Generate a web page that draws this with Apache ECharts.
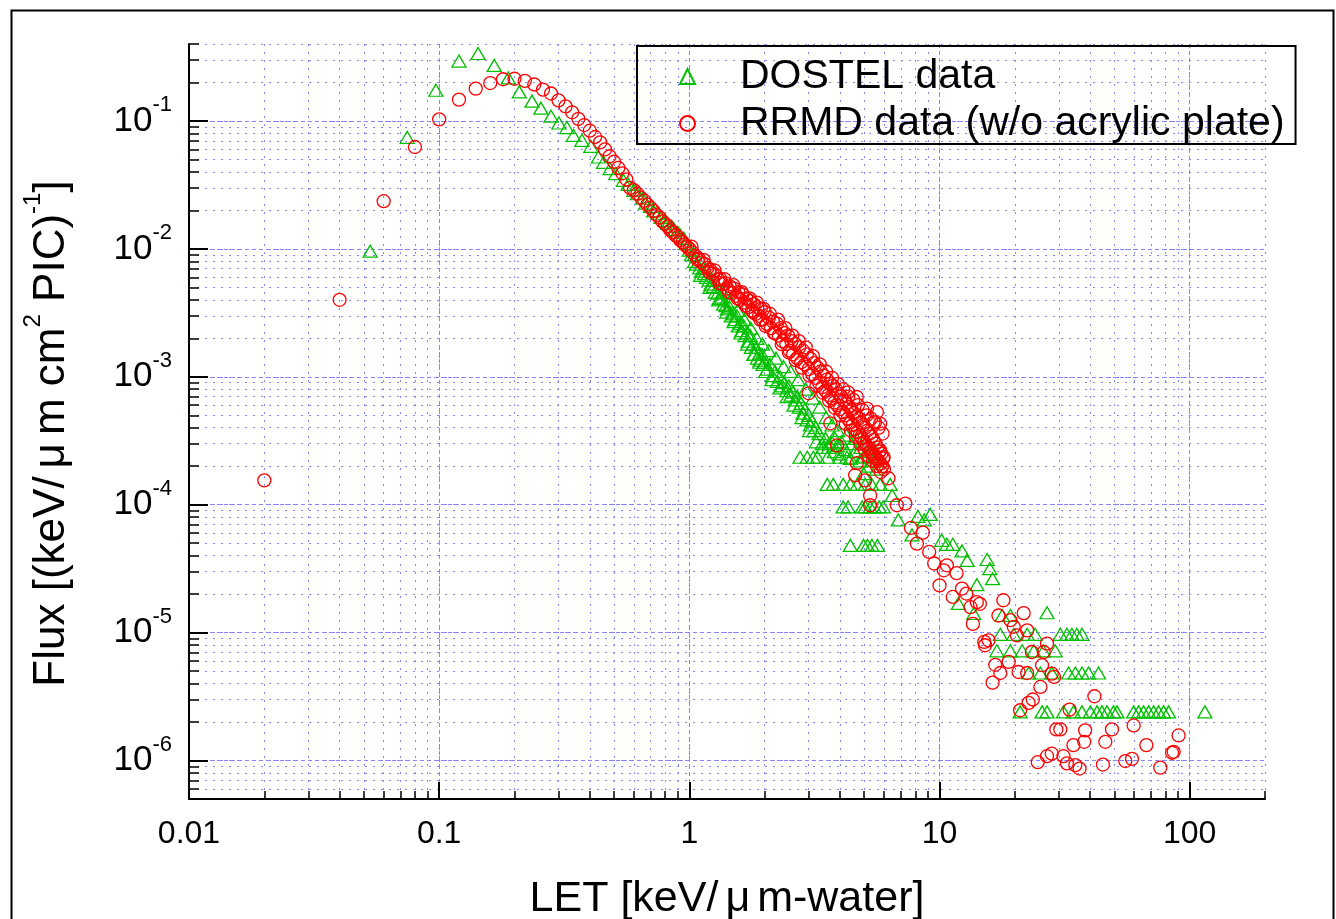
<!DOCTYPE html>
<html><head><meta charset="utf-8">
<script src="https://cdn.jsdelivr.net/npm/echarts@6/dist/echarts.min.js"></script>
<style>html,body{margin:0;padding:0;background:#fff}#c{width:1336px;height:919px}</style>
</head><body><div id="c"></div>
<script>
// ---- tick labels ----
const xTickValues = [0.01, 0.1, 1, 10, 100];
const xTickLabels = ['0.01', '0.1', '1', '10', '100'];
const yTickValues = [1e-6, 1e-5, 1e-4, 1e-3, 1e-2, 1e-1];
const yTickExponents = ['-6', '-5', '-4', '-3', '-2', '-1'];

// ---- DOSTEL data (LET, flux) ----
const dostelLow = [[0.053,0.0096],[0.0745,0.0746],[0.097,0.174],[0.120,0.294],[0.143,0.337],[0.166,0.272],[0.189,0.217],[0.209,0.169],[0.235,0.143],[0.255,0.126],[0.280,0.109],[0.301,0.0965],[0.324,0.0888],[0.344,0.0773],[0.372,0.0706],[0.404,0.0634],[0.433,0.0523],[0.454,0.0475],[0.482,0.0425],[0.508,0.0388],[0.545,0.0344]];
const dostelBand = [[0.57,0.032],[0.60,0.0287],[0.62,0.027],[0.65,0.0249],[0.67,0.0228],[0.70,0.0215],[0.72,0.0198],[0.75,0.019],[0.77,0.0176],[0.80,0.0167],[0.82,0.0158],[0.85,0.015],[0.87,0.0142],[0.90,0.0135],[0.92,0.0128],[0.95,0.0121],[0.97,0.0110],[1.00,0.0098],[1.02,0.0090],[1.05,0.0080],[1.07,0.0076],[1.10,0.0071],[1.12,0.0067],[1.15,0.0064],[1.17,0.0060],[1.20,0.0057],[1.22,0.0053],[1.25,0.0051],[1.27,0.0046],[1.30,0.0045],[1.32,0.0041],[1.35,0.0042],[1.37,0.0037],[1.40,0.0036],[1.42,0.0034],[1.45,0.0035],[1.47,0.0030],[1.50,0.0031],[1.52,0.0028],[1.55,0.0030],[1.57,0.0025],[1.60,0.0026],[1.62,0.0023],[1.65,0.0025],[1.67,0.0021],[1.70,0.0022],[1.72,0.0019],[1.75,0.0021],[1.77,0.0017],[1.80,0.0018],[1.82,0.0015],[1.85,0.0017],[1.87,0.0014],[1.90,0.0015],[1.92,0.00135],[1.95,0.0015],[1.97,0.00125],[2.00,0.0013],[2.05,0.00115],[2.10,0.00125],[2.15,0.00102],[2.20,0.00110],[2.25,0.00092],[2.30,0.00100],[2.35,0.00085],[2.40,0.00090],[2.45,0.00078],[2.50,0.00085],[2.55,0.00072],[2.60,0.00076],[2.65,0.00066],[2.70,0.00070],[2.75,0.00058],[2.80,0.00062],[2.85,0.00052],[2.90,0.00056],[2.95,0.00046],[3.00,0.00050],[3.05,0.00042],[3.10,0.00045],[3.15,0.00038],[3.20,0.00040],[3.30,0.00036],[3.40,0.00030],[3.50,0.00033],[3.60,0.00028],[3.70,0.00031],[3.80,0.00026],[3.90,0.00029],[4.00,0.00025],[4.20,0.00027],[4.40,0.00023],[4.60,0.00026],[4.80,0.00022],[5.00,0.00024],[5.20,0.00020],[5.40,0.00022],[5.60,0.00019]];
const dostelSpread = [[1.05,0.0090],[1.11,0.0062],[1.16,0.0070],[1.21,0.0050],[1.26,0.0057],[1.31,0.0040],[1.36,0.0046],[1.41,0.0032],[1.46,0.0039],[1.51,0.0027],[1.56,0.0033],[1.61,0.0022],[1.66,0.0028],[1.71,0.0018],[1.76,0.0024],[1.81,0.0015],[1.86,0.0020],[1.91,0.0013],[1.96,0.0018],[2.02,0.0011],[2.08,0.0016],[2.14,0.00095],[2.22,0.0014],[2.30,0.00082],[2.38,0.0012],[2.46,0.00070],[2.54,0.0011],[2.62,0.00060],[2.72,0.00095],[2.82,0.00048],[2.92,0.00080],[3.02,0.00038],[3.12,0.00068],[3.22,0.00031],[3.32,0.00058],[3.42,0.00028],[3.52,0.00048],[3.62,0.00030],[3.72,0.00042],[3.82,0.00033],[3.92,0.00038],[4.05,0.00031],[4.25,0.00035],[4.45,0.00030],[4.65,0.00033],[4.85,0.00028],[5.05,0.00030],[5.25,0.00026],[5.45,0.00028],[5.65,0.00024],[5.85,0.00022]];
const dostelMid = [[2.77,2.35e-4],[2.96,2.35e-4],[3.13,2.35e-4],[3.25,2.35e-4],[3.56,2.35e-4],[4.0,2.35e-4],[4.27,2.35e-4],[4.96,2.35e-4],[5.64,2.35e-4],
 [3.56,1.44e-4],[3.76,1.44e-4],[4.12,1.44e-4],[4.4,1.44e-4],[4.69,1.44e-4],[5.05,1.44e-4],[5.36,1.44e-4],[5.79,1.44e-4],[6.35,1.44e-4],
 [4.12,9.6e-5],[4.31,9.6e-5],[4.91,9.6e-5],[5.05,9.6e-5],[5.28,9.6e-5],[5.48,9.6e-5],[5.74,9.6e-5],[5.96,9.6e-5],
 [4.4,4.8e-5],[4.97,4.8e-5],[5.15,4.8e-5],[5.37,4.8e-5],[5.65,4.8e-5],
 [4.97,1.75e-4],[6.47,1.18e-4],[6.84,7.6e-5],[7.76,5.8e-5],[8.2,8.1e-5],[8.69,7.6e-5],[9.18,8.4e-5],[10.2,5.27e-5],[10.7,4.9e-5],[11.3,4.9e-5],[12.3,4.35e-5],[12.9,3.67e-5],[15.5,3.73e-5],[15.9,3.16e-5],[16.3,2.64e-5],[14.1,2.37e-5],[11.9,1.69e-5],[13.7,1.41e-5],[17.8,1.36e-5],[19.2,1.36e-5],[26.9,1.43e-5]];
const dostelHigh = [[17.5,9.7e-6],[19.8,9.7e-6],[22.4,9.7e-6],[24.1,9.7e-6],[30.4,9.7e-6],[32.3,9.7e-6],[33.8,9.7e-6],[35.4,9.7e-6],[37.1,9.7e-6],
 [16.96,7.2e-6],[19.2,7.2e-6],[21.4,7.2e-6],[23.8,7.2e-6],[26.0,7.2e-6],[29.0,7.2e-6],
 [22.7,4.83e-6],[25.3,4.83e-6],[28.1,4.83e-6],[32.8,4.83e-6],[34.9,4.83e-6],[37.1,4.83e-6],[39.4,4.83e-6],[43.2,4.83e-6],
 [21.0,2.4e-6],[25.7,2.4e-6],[26.9,2.4e-6],[31.3,2.4e-6],[34.3,2.4e-6],[37.1,2.4e-6],[40.1,2.4e-6],[42.6,2.4e-6],[44.6,2.4e-6],[46.7,2.4e-6],[49.6,2.4e-6],[51.2,2.4e-6],[59.7,2.4e-6],[62.5,2.4e-6],[65.4,2.4e-6],[68.5,2.4e-6],[71.7,2.4e-6],[75.1,2.4e-6],[78.6,2.4e-6],[82.3,2.4e-6],[115,2.4e-6]];

// ---- RRMD data (LET, flux) ----
const rrmdLow = [[0.02,1.55e-4],[0.04,4.0e-3],[0.06,0.0236],[0.08,0.0626],[0.10,0.103],[0.12,0.147],[0.14,0.179],[0.16,0.198],[0.18,0.212],[0.20,0.214],[0.22,0.206],[0.24,0.193],[0.26,0.176],[0.28,0.164],[0.30,0.145],[0.32,0.130],[0.34,0.117],[0.36,0.104],[0.38,0.093],[0.40,0.084],[0.42,0.075],[0.44,0.068],[0.46,0.060],[0.48,0.053],[0.50,0.048],[0.52,0.043],[0.54,0.039],[0.56,0.035]];
const rrmdBand = [[0.58,0.0300],[0.60,0.0288],[0.62,0.0270],[0.64,0.0252],[0.66,0.0238],[0.68,0.0222],[0.70,0.0210],[0.72,0.0198],[0.74,0.0184],[0.76,0.0176],[0.78,0.0164],[0.80,0.0157],[0.82,0.0150],[0.84,0.0140],[0.86,0.0135],[0.88,0.0128],[0.90,0.0124],[0.92,0.0117],[0.94,0.0113],[0.96,0.0108],[0.98,0.0104],[1.00,0.0100],[1.03,0.0094],[1.06,0.0088],[1.09,0.0084],[1.12,0.0078],[1.15,0.0076],[1.18,0.0071],[1.21,0.0069],[1.24,0.0064],[1.27,0.0063],[1.30,0.0058],[1.33,0.0058],[1.36,0.0053],[1.39,0.0054],[1.42,0.0049],[1.45,0.0051],[1.48,0.0045],[1.51,0.0049],[1.54,0.0043],[1.57,0.0046],[1.60,0.0040],[1.63,0.0044],[1.66,0.0038],[1.69,0.0041],[1.72,0.0035],[1.75,0.0039],[1.78,0.0033],[1.81,0.0037],[1.84,0.0031],[1.87,0.0035],[1.90,0.0030],[1.93,0.0034],[1.96,0.0028],[2.00,0.0032],[2.04,0.0026],[2.08,0.0029],[2.12,0.0024],[2.16,0.0027],[2.20,0.0022],[2.24,0.0026],[2.28,0.0021],[2.32,0.0024],[2.36,0.0019],[2.40,0.0022],[2.44,0.0018],[2.48,0.0021],[2.52,0.0016],[2.56,0.0019],[2.60,0.0015],[2.65,0.0018],[2.70,0.0014],[2.75,0.0017],[2.80,0.0013],[2.85,0.0016],[2.90,0.00125],[2.95,0.0015],[3.00,0.00115],[3.05,0.00138],[3.10,0.00105],[3.15,0.00128],[3.20,0.00098],[3.25,0.00118],[3.30,0.00090],[3.35,0.00110],[3.40,0.00083],[3.45,0.00102],[3.50,0.00078],[3.55,0.00095],[3.60,0.00072],[3.65,0.00088],[3.70,0.00068],[3.75,0.00085],[3.80,0.00063],[3.85,0.00080],[3.90,0.00060],[3.95,0.00074],[4.00,0.00056],[4.05,0.00070],[4.10,0.00053],[4.15,0.00065],[4.20,0.00050],[4.25,0.00062],[4.30,0.00047],[4.35,0.00058],[4.40,0.00044],[4.45,0.00055],[4.50,0.00042],[4.55,0.00052],[4.60,0.00039],[4.65,0.00049],[4.70,0.00037],[4.75,0.00047],[4.80,0.00035],[4.85,0.00044],[4.90,0.00033],[4.95,0.00042],[5.00,0.00031],[5.05,0.00040],[5.10,0.00029],[5.15,0.00038],[5.20,0.00028],[5.25,0.00036],[5.30,0.00026],[5.35,0.00034],[5.40,0.00025],[5.45,0.00032],[5.50,0.00024],[5.55,0.00030],[5.60,0.00023],[5.65,0.00028],[5.70,0.00022],[5.75,0.00026],[5.80,0.00021],[5.85,0.00025],[5.90,0.00020],[5.95,0.00023],[6.00,0.00019]];
const rrmdSpread = [[1.02,0.0104],[1.08,0.0082],[1.14,0.0082],[1.20,0.0066],[1.26,0.0068],[1.32,0.0054],[1.38,0.0058],[1.44,0.0046],[1.50,0.0052],[1.56,0.0041],[1.62,0.0046],[1.68,0.0036],[1.74,0.0041],[1.80,0.0032],[1.86,0.0038],[1.92,0.0028],[1.98,0.0034],[2.02,0.0025],[2.10,0.0031],[2.18,0.0022],[2.26,0.0028],[2.34,0.0018],[2.42,0.0024],[2.50,0.00155],[2.58,0.0021],[2.66,0.00135],[2.74,0.0019],[2.82,0.00118],[2.92,0.0017],[3.02,0.00102],[3.12,0.00145],[3.22,0.00085],[3.32,0.00125],[3.42,0.00075],[3.52,0.00110],[3.62,0.00065],[3.72,0.00098],[3.82,0.00057],[3.92,0.00088],[4.02,0.00050],[4.12,0.00080],[4.22,0.00043],[4.32,0.00070],[4.42,0.00038],[4.52,0.00066],[4.62,0.00034],[4.72,0.00060],[4.82,0.00030],[4.92,0.00055],[5.02,0.00027],[5.12,0.00050],[5.22,0.00024],[5.32,0.00047],[5.42,0.00022],[5.52,0.00044],[5.62,0.00020],[5.72,0.00040],[5.82,0.00018],[5.92,0.00036]];
const rrmdMid = [[4.31,7.56e-4],[4.67,6.95e-4],[5.13,5.64e-4],[5.62,5.3e-4],[5.45,4.43e-4],[5.79,4.3e-4],[5.79,2.66e-4],[5.98,2.36e-4],[6.25,1.61e-4],[5.04,1.55e-4],[4.6,1.7e-4],[5.28,1.18e-4],[5.28,9.9e-5],[6.75,9.9e-5],[7.3,1.02e-4],[3.0,7.43e-4],[3.66,4.33e-4],[3.89,2.91e-4],[4.67,2.11e-4]];
const rrmdHigh = [[7.69,6.58e-5],[8.58,6.05e-5],[8.12,4.96e-5],[9.09,4.27e-5],[9.52,3.47e-5],[10.7,3.36e-5],[10.4,3.07e-5],[11.7,2.92e-5],[10.0,2.34e-5],[11.3,1.9e-5],[12.3,2.21e-5],[12.8,2.02e-5],[14.1,1.73e-5],[14.5,1.68e-5],[13.3,1.58e-5],[13.6,1.17e-5],[18.0,1.79e-5],[17.2,1.36e-5],[19.2,1.25e-5],[19.8,1.11e-5],[21.7,1.42e-5],[20.4,9.5e-6],[22.4,1.04e-5],[15.1,8.46e-6],[15.7,8.7e-6],[15.2,7.96e-6],[23.4,7.05e-6],[26.9,8.2e-6],[26.1,7.05e-6],[16.7,5.6e-6],[18.9,5.9e-6],[17.5,4.83e-6],[16.3,4.06e-6],[20.7,4.92e-6],[22.4,4.83e-6],[25.7,5.56e-6],[28.1,4.78e-6],[28.7,4.5e-6],[25.3,3.76e-6],[23.6,3.0e-6],[22.7,2.82e-6],[21.0,2.47e-6],[41.6,3.18e-6],[33.1,2.5e-6],[29.3,1.75e-6],[30.4,1.75e-6],[38.2,1.72e-6],[48.9,1.75e-6],[59.7,1.88e-6],[90.3,1.57e-6],[37.9,1.4e-6],[34.3,1.32e-6],[46.0,1.4e-6],[67.1,1.32e-6],[86.3,1.17e-6],[85.0,1.15e-6],[24.7,9.7e-7],[26.9,1.08e-6],[28.1,1.13e-6],[31.3,1.08e-6],[32.3,9.5e-7],[34.9,9.2e-7],[36.3,8.65e-7],[45.0,9.3e-7],[55.3,9.9e-7],[58.8,1.03e-6],[76.3,8.8e-7]];

const dostel = dostelLow.concat(dostelBand, dostelSpread, dostelMid, dostelHigh);
const rrmd = rrmdLow.concat(rrmdBand, rrmdSpread, rrmdMid, rrmdHigh);

// grid-line positions (1..9 x 10^n inside the axis range)
function logSteps(lo, hi) {
  const out = [];
  for (let e = -8; e <= 4; e++) for (let m = 1; m <= 9; m++) {
    const v = parseFloat((m * Math.pow(10, e)).toPrecision(6));
    if (v >= lo * (1 - 1e-9) && v <= hi * (1 + 1e-9)) out.push(v);
  }
  return out;
}
const X_MIN = 0.01, X_MAX = 200, Y_MIN = 5e-7, Y_MAX = 0.4;
const xMinor = logSteps(X_MIN, X_MAX);
const yMinor = logSteps(Y_MIN, Y_MAX);

const FONT = 'Liberation Sans';
const GRID_COL = '#8585ff';

const chart = echarts.init(document.getElementById('c'), null, {renderer: 'canvas'});
chart.setOption({
  animation: false,
  backgroundColor: '#fff',
  grid: {left: 189, right: 71, top: 44, bottom: 120, containLabel: false, outerBoundsMode: 'none'},
  graphic: [{type: 'rect', left: 9, top: 8, shape: {width: 1322, height: 940}, style: {fill: 'none', stroke: '#000', lineWidth: 2}, silent: true, z: -10}],
  legend: {
    orient: 'vertical', left: 637, top: 46,
    borderColor: '#000', borderWidth: 2, borderRadius: 0,
    padding: [10, 11, 0, 42], itemGap: 6, itemWidth: 15, itemHeight: 15,
    textStyle: {fontFamily: FONT, fontSize: 41, color: '#000', padding: [0, 0, 0, 40]},
    data: [{name: 'DOSTEL data', icon: 'triangle'}, {name: 'RRMD data (w/o acrylic plate)', icon: 'circle'}],
    selectedMode: false
  },
  xAxis: [{
    type: 'log', logBase: 10, min: X_MIN, max: X_MAX, position: 'bottom',
    name: 'LET [keV/{mu|μ}m-water]', nameLocation: 'middle', nameGap: 79,
    nameTextStyle: {fontFamily: FONT, fontSize: 43, color: '#000', rich: {mu: {fontFamily: FONT, fontSize: 43, padding: [0, 7, 0, 7]}}},
    axisLine: {show: true, onZero: false, lineStyle: {color: '#000', width: 2}},
    axisTick: {show: true, inside: true, length: 8, customValues: xMinor, lineStyle: {color: '#000', width: 1.5}},
    axisLabel: {show: true, customValues: xTickValues, margin: 19, fontFamily: FONT, fontSize: 32, color: '#000',
      formatter: v => xTickLabels[xTickValues.findIndex(t => Math.abs(Math.log10(t) - Math.log10(v)) < 1e-6)]},
    splitLine: {show: true, lineStyle: {color: GRID_COL, type: [2, 6], width: 1}},
    minorTick: {show: false}, minorSplitLine: {show: false}
  }, {
    type: 'log', logBase: 10, min: X_MIN, max: X_MAX, position: 'bottom',
    axisLine: {show: false, onZero: false},
    axisTick: {show: true, inside: true, length: 17, customValues: xTickValues, lineStyle: {color: '#000', width: 2}},
    axisLabel: {show: false},
    splitLine: {show: true, lineStyle: {color: GRID_COL, type: [4, 3], width: 1}}
  }],
  yAxis: [{
    type: 'log', logBase: 10, min: Y_MIN, max: Y_MAX, position: 'left',
    name: 'Flux [(keV/{mu|μ}m cm{sup|2} PIC){sup|-1}]', nameLocation: 'middle', nameGap: 106, nameRotate: 90,
    nameTextStyle: {fontFamily: FONT, fontSize: 44, lineHeight: 62, color: '#000', padding: [0, 24, 0, 0],
      rich: {mu: {fontFamily: FONT, fontSize: 44, lineHeight: 62, padding: [0, 8, 0, 8]}, sup: {fontFamily: FONT, fontSize: 24, lineHeight: 26, verticalAlign: 'top'}}},
    axisLine: {show: true, onZero: false, lineStyle: {color: '#000', width: 2}},
    axisTick: {show: true, inside: true, length: 10, customValues: yMinor, lineStyle: {color: '#000', width: 1.5}},
    axisLabel: {show: true, customValues: yTickValues, margin: 17, color: '#000',
      formatter: v => '{b|10}{s|' + yTickExponents[yTickValues.findIndex(t => Math.abs(Math.log10(t) - Math.log10(v)) < 1e-6)] + '}',
      rich: {b: {fontFamily: FONT, fontSize: 35, lineHeight: 54, color: '#000'}, s: {fontFamily: FONT, fontSize: 22, lineHeight: 24, verticalAlign: 'top', color: '#000'}}},
    splitLine: {show: true, lineStyle: {color: GRID_COL, type: [2, 6], width: 1}},
    minorTick: {show: false}, minorSplitLine: {show: false}
  }, {
    type: 'log', logBase: 10, min: Y_MIN, max: Y_MAX, position: 'left',
    axisLine: {show: false, onZero: false},
    axisTick: {show: true, inside: true, length: 19, customValues: yTickValues, lineStyle: {color: '#000', width: 2}},
    axisLabel: {show: false},
    splitLine: {show: true, lineStyle: {color: GRID_COL, type: [4, 3], width: 1}}
  }],
  series: [{
    name: 'DOSTEL data', type: 'scatter', xAxisIndex: 0, yAxisIndex: 0,
    symbol: 'triangle', symbolSize: [14, 12],
    itemStyle: {color: 'rgba(0,0,0,0)', borderColor: '#00c000', borderWidth: 1.3, opacity: 1},
    data: dostel, z: 3
  }, {
    name: 'RRMD data (w/o acrylic plate)', type: 'scatter', xAxisIndex: 0, yAxisIndex: 0,
    symbol: 'circle', symbolSize: 13,
    itemStyle: {color: 'rgba(0,0,0,0)', borderColor: '#ff0000', borderWidth: 1.3, opacity: 1},
    data: rrmd, z: 4
  }]
});
</script></body></html>
